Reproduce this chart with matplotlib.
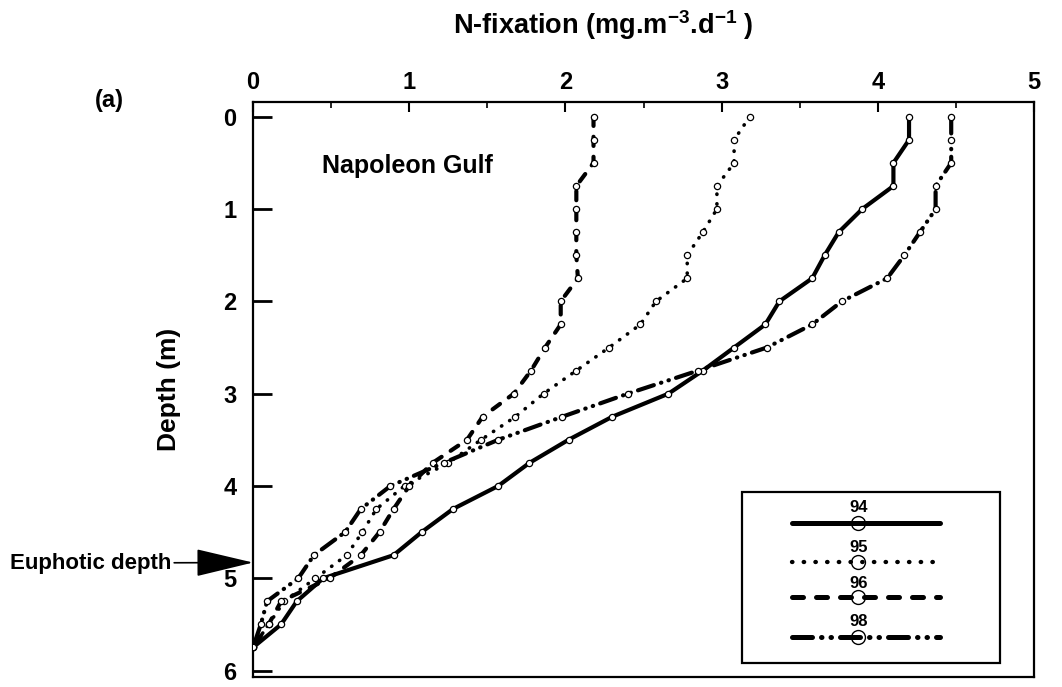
import matplotlib
matplotlib.use("Agg")
import matplotlib.pyplot as plt
from matplotlib.patches import Rectangle
from matplotlib.lines import Line2D

plt.rcParams['font.family'] = ['Liberation Sans', 'DejaVu Sans']
plt.rcParams['font.weight'] = 'bold'
plt.rcParams['mathtext.default'] = 'regular'

# ---------------- data ----------------
depth = [0.0, 0.25, 0.5, 0.75, 1.0, 1.25, 1.5, 1.75, 2.0, 2.25, 2.5, 2.75,
         3.0, 3.25, 3.5, 3.75, 4.0, 4.25, 4.5, 4.75, 5.0, 5.25, 5.5, 5.75]
nfix_94 = [4.20, 4.20, 4.10, 4.10, 3.90, 3.75, 3.66, 3.58, 3.37, 3.28, 3.08, 2.88,
           2.66, 2.30, 2.02, 1.77, 1.57, 1.28, 1.08, 0.90, 0.45, 0.28, 0.18, 0.00]
nfix_95 = [3.18, 3.08, 3.08, 2.97, 2.97, 2.88, 2.78, 2.78, 2.58, 2.48, 2.28, 2.07,
           1.86, 1.68, 1.46, 1.25, 0.97, 0.79, 0.70, 0.60, 0.40, 0.20, 0.10, 0.00]
nfix_96 = [2.18, 2.18, 2.18, 2.07, 2.07, 2.07, 2.07, 2.08, 1.97, 1.97, 1.87, 1.78,
           1.67, 1.47, 1.37, 1.15, 1.00, 0.90, 0.81, 0.69, 0.49, 0.18, 0.10, 0.00]
nfix_98 = [4.47, 4.47, 4.47, 4.37, 4.37, 4.27, 4.17, 4.06, 3.77, 3.58, 3.29, 2.85,
           2.40, 1.98, 1.57, 1.22, 0.88, 0.69, 0.59, 0.39, 0.29, 0.09, 0.05, 0.00]
series_labels = ['94', '95', '96', '98']
x_ticks = [0, 1, 2, 3, 4, 5]
y_ticks = [0, 1, 2, 3, 4, 5, 6]
euphotic_depth = 4.83

# ---------------- styles ----------------
styles = [
    dict(ls='-', lw=3.0),
    dict(ls=(0, (0.1, 2.6)), lw=2.6),
    dict(ls=(0, (2.2, 2.6)), lw=3.0),
    dict(ls=(0, (4.0, 1.8, 0.1, 1.8, 0.1, 1.8)), lw=3.0),
]

fig = plt.figure(figsize=(10.62, 6.87), dpi=100)
ax = fig.add_axes([253 / 1062, 1 - 677 / 687, 781 / 1062, 575 / 687])

for vals, st in zip([nfix_94, nfix_95, nfix_96, nfix_98], styles):
    ax.plot(vals, depth, color='black', ls=st['ls'], lw=st['lw'],
            dash_capstyle='round', solid_capstyle='round', solid_joinstyle='round',
            marker='o', ms=4.5, mfc='white', mec='black', mew=0.9, zorder=3)

ax.set_xlim(0, 5)
ax.set_ylim(6.07, -0.16)
ax.xaxis.set_ticks_position('top')
ax.xaxis.set_label_position('top')
ax.set_xticks(x_ticks)
ax.set_xticks([0.5, 1.5, 2.5, 3.5, 4.5], minor=True)
ax.set_yticks(y_ticks)
ax.tick_params(axis='x', which='major', direction='in', length=7, width=1.5,
               labelsize=17, pad=6)
ax.tick_params(axis='x', which='minor', direction='in', length=4, width=1.2)
ax.tick_params(axis='y', which='major', direction='in', length=14, width=2,
               labelsize=17, pad=12)
for lab in ax.get_xticklabels() + ax.get_yticklabels():
    lab.set_fontweight('bold')
for sp in ax.spines.values():
    sp.set_linewidth(1.6)

ax.set_ylabel('Depth (m)', fontsize=19, fontweight='bold', labelpad=30)

fig.text(603 / 1062, 1 - 25 / 687, r'N-fixation (mg.m$^{-3}$.d$^{-1}$ )',
         ha='center', va='center', fontsize=19.5, fontweight='bold')
fig.text(95 / 1062, 1 - 101 / 687, '(a)', ha='left', va='center',
         fontsize=17, fontweight='bold')
fig.text(322 / 1062, 1 - 166 / 687, 'Napoleon Gulf', ha='left', va='center',
         fontsize=18, fontweight='bold')

ax.annotate('Euphotic depth', xy=(0, euphotic_depth),
            xycoords=('axes fraction', 'data'),
            xytext=(10, 687 - 563), textcoords='figure pixels',
            ha='left', va='center', fontsize=16, fontweight='bold',
            annotation_clip=False,
            arrowprops=dict(arrowstyle='-|>,head_length=2.3,head_width=0.55',
                            lw=1.2, color='black', shrinkA=0, shrinkB=0))

# ---------------- legend ----------------
ax.add_patch(Rectangle((0.626, 0.024), 0.33, 0.298, transform=ax.transAxes,
                       fill=False, lw=1.6, ec='black', zorder=5))
label_y = [0.294, 0.226, 0.163, 0.0957]
line_y = [0.268, 0.200, 0.139, 0.0696]
for lbl, st, ly, yy in zip(series_labels, styles, label_y, line_y):
    ax.text(0.775, ly, lbl, transform=ax.transAxes, ha='center', va='center',
            fontsize=12, fontweight='bold', zorder=6)
    ax.add_line(Line2D([0.690, 0.880], [yy, yy], transform=ax.transAxes,
                       color='black', ls=st['ls'], lw=st['lw'] * 1.2,
                       dash_capstyle='round', solid_capstyle='round', zorder=6))
    ax.add_line(Line2D([0.775], [yy], transform=ax.transAxes, marker='o',
                       ms=10, mfc='none', mec='black', mew=1.0, ls='none', zorder=7))

fig.savefig('out.png', dpi=100)
